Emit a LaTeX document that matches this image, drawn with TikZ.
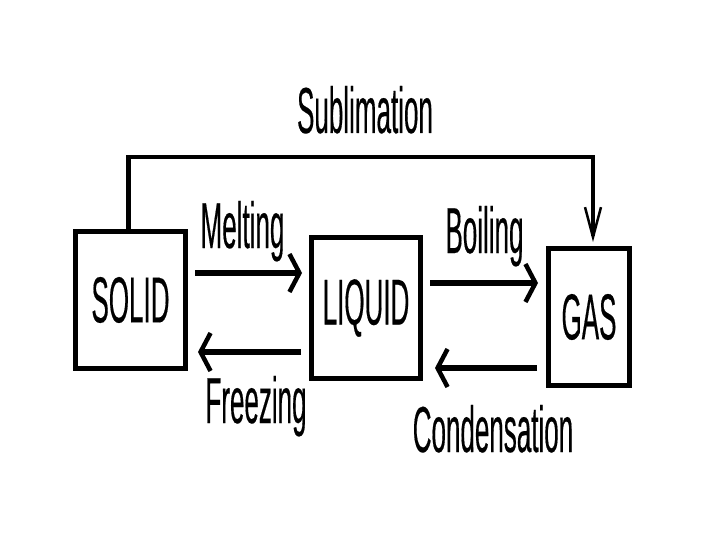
\documentclass[tikz,border=0pt]{standalone}
\usepackage{fontspec}
\setmainfont{Liberation Sans}[FakeStretch=0.4,FakeBold=0.25]
\usepackage{tikz}
\usetikzlibrary{arrows.meta,positioning}
\tikzset{
  phase/.style={draw=black,line width=5pt,font=\fontsize{65}{70}\selectfont,inner sep=0pt},
  word/.style={font=\fontsize{65}{70}\selectfont,inner sep=0pt,anchor=base},
  arrow/.style={-{Straight Barb[length=10pt,width=38pt,line width=4.5pt]},line width=6pt,draw=black},
  subarrow/.style={-{Straight Barb[length=30pt,width=16pt,line width=2.5pt]},line width=4.5pt,draw=black}
}

\begin{document}
\begin{tikzpicture}[x=1pt,y=-1pt]
  \useasboundingbox[fill=white] (0,0) rectangle (720,540);

  \node[phase,minimum width=110pt,minimum height=137pt] (solid) at (130.5,300) {SOLID};
  \node[phase,minimum width=109pt,minimum height=141pt] (liquid) at (366,308) {LIQUID};
  \node[phase,minimum width=81pt,minimum height=137pt] (gas) at (589,317) {GAS};

  \draw[arrow,shorten <=7pt,shorten >=7pt] ([yshift=27pt]solid.east) -- node[word,xshift=-6pt,yshift=25pt] (melt) {Melting} ([yshift=27pt]solid.east -| liquid.west);
  \draw[arrow,shorten <=8pt,shorten >=10pt] ([yshift=-52pt]solid.east -| liquid.west) -- node[word,xshift=7.5pt,yshift=-71pt] (freeze) {Freezing} ([yshift=-52pt]solid.east);
  \draw[arrow,shorten <=7pt,shorten >=8pt] ([yshift=25pt]liquid.east) -- node[word,yshift=30pt] (boil) {Boiling} ([yshift=25pt]liquid.east -| gas.west);
  \draw[arrow,shorten <=9pt,shorten >=12pt] ([yshift=-60pt]liquid.east -| gas.west) -- node[word,xshift=8.5pt,yshift=-84pt] (condense) {Condensation} ([yshift=-60pt]liquid.east);

  \draw[subarrow,shorten >=4pt] ([xshift=-2pt]solid.north) -- ++(0,-72) -| ([xshift=4pt]gas.north);
  \node[word] (sublime) at (365,133) {Sublimation};
\end{tikzpicture}
\end{document}
